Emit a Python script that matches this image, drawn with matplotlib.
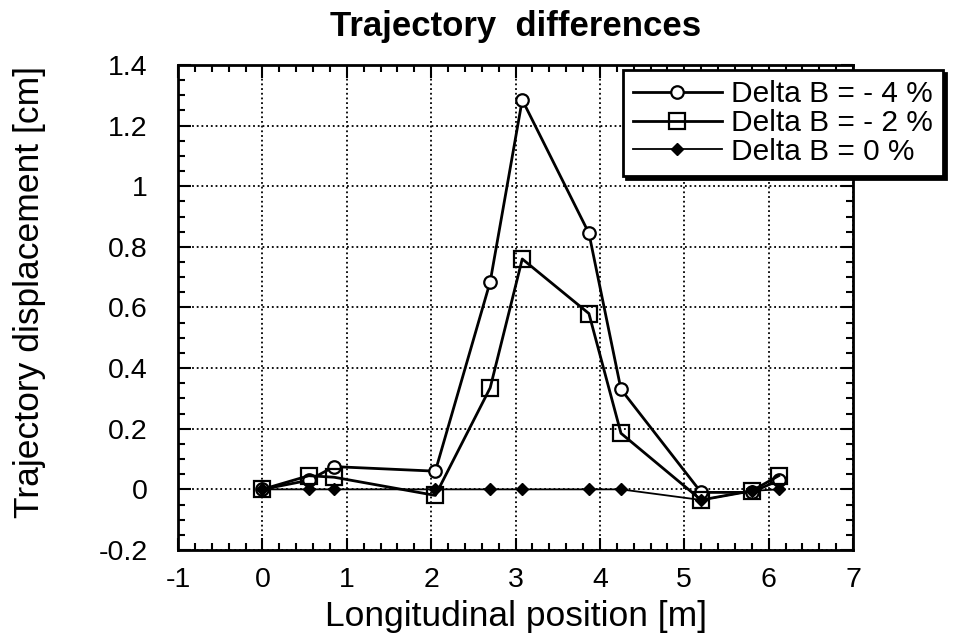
import matplotlib
matplotlib.use('Agg')
import matplotlib.pyplot as plt
from matplotlib.ticker import MultipleLocator

plt.rcParams['font.family'] = ['Liberation Sans', 'DejaVu Sans']

# positions along the beam line [m]
pos = [0.0, 0.55, 0.85, 2.05, 2.70, 3.08, 3.87, 4.25, 5.20, 5.80, 6.12]

# trajectory displacement [cm] for each field error
minus4 = [0.0, 0.03, 0.075, 0.06, 0.685, 1.285, 0.845, 0.33, -0.01, -0.01, 0.03]
minus2 = [0.0, 0.045, 0.04, -0.02, 0.335, 0.76, 0.58, 0.185, -0.035, -0.005, 0.045]
zero = [0.0, 0.0, 0.0, 0.0, 0.0, 0.0, 0.0, 0.0, -0.035, -0.005, 0.0]

labels = ['Delta B = - 4 %', 'Delta B = - 2 %', 'Delta B = 0 %']

fig = plt.figure(figsize=(9.55, 6.37), dpi=100)
ax = fig.add_axes([0.1864, 0.1366, 0.7068, 0.7614])

ax.plot(pos, minus4, '-', color='k', lw=2, marker='o', ms=9,
        mfc='white', mec='k', mew=1.6, label=labels[0])
ax.plot(pos, minus2, '-', color='k', lw=2, marker='s', ms=12,
        mfc='none', mec='k', mew=1.6, label=labels[1])
ax.plot(pos, zero, '-', color='k', lw=1.3, marker='D', ms=6.5,
        mfc='k', mec='k', label=labels[2])

ax.set_xlim(-1, 7)
ax.set_ylim(-0.2, 1.4)
ax.xaxis.set_major_locator(MultipleLocator(1))
ax.xaxis.set_minor_locator(MultipleLocator(0.2))
ax.yaxis.set_major_locator(MultipleLocator(0.2))
ax.yaxis.set_minor_locator(MultipleLocator(0.05))
ax.xaxis.set_major_formatter(plt.FuncFormatter(lambda v, p: '%g' % v))
ax.yaxis.set_major_formatter(plt.FuncFormatter(lambda v, p: '%g' % round(v, 2)))

ax.tick_params(which='both', direction='in', top=True, right=True,
               labelsize=20.5, width=1.5)
ax.tick_params(which='major', length=9)
ax.tick_params(which='minor', length=5)
ax.tick_params(axis='y', which='major', pad=22)
ax.tick_params(axis='x', which='major', pad=12)
for s in ax.spines.values():
    s.set_linewidth(2)

ax.grid(True, which='major', linestyle=(0, (1, 1.6)), color='k', lw=1.3)

ax.set_xlabel('Longitudinal position [m]', fontsize=25.5)
ax.xaxis.set_label_coords(0.5, -0.104)
ax.set_ylabel('Trajectory displacement [cm]', fontsize=25.5)
ax.yaxis.set_label_coords(-0.196, 0.532)
ax.set_title('Trajectory  differences', fontsize=25, fontweight='bold', pad=21)

leg = fig.legend(loc='upper left', bbox_to_anchor=(623 / 955, 1 - 70 / 637),
                 borderaxespad=0,
                 fontsize=21.5, handlelength=2.95, handletextpad=0.3,
                 labelspacing=0.02, borderpad=0.35, fancybox=False,
                 framealpha=1, edgecolor='k',
                 shadow={'color': 'k', 'alpha': 1})
leg.get_frame().set_linewidth(2)

fig.savefig('out.png', dpi=100)
